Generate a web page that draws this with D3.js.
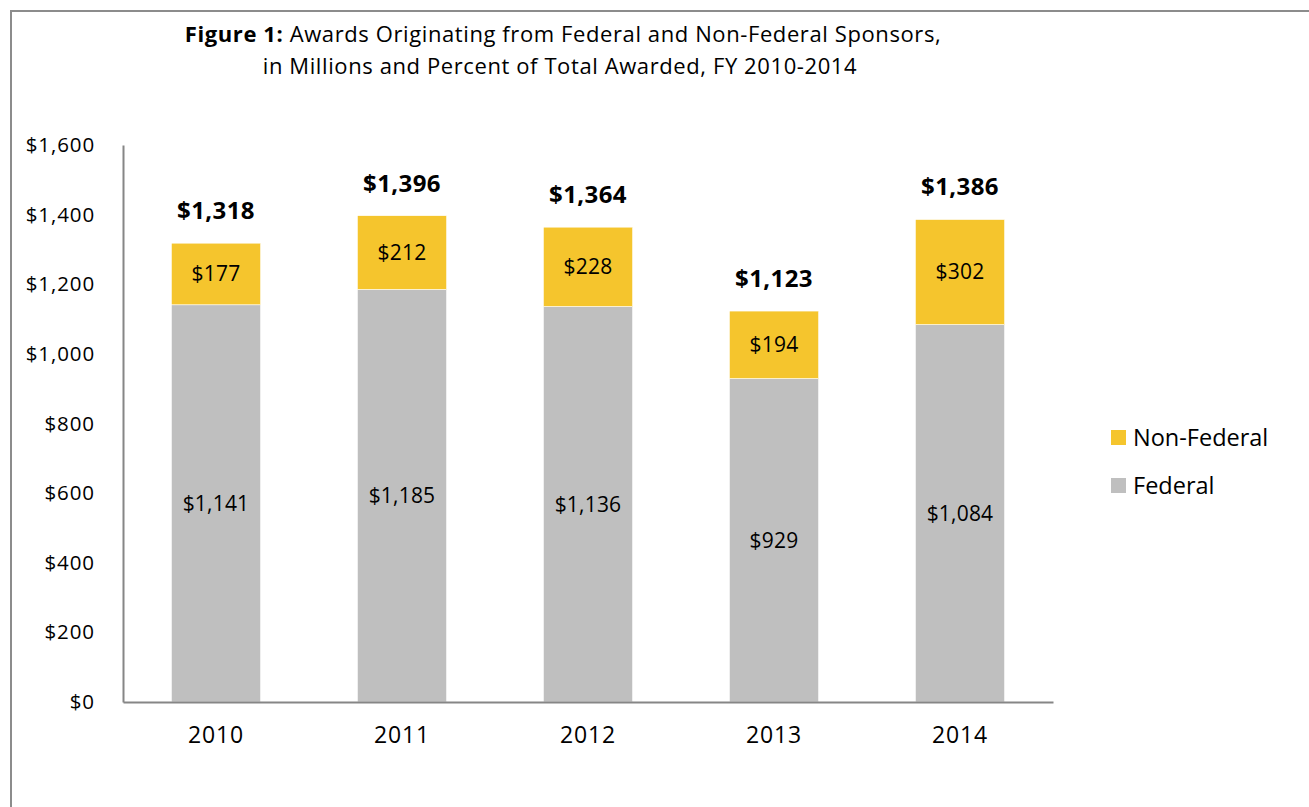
<!DOCTYPE html>
<html>
<head>
<meta charset="utf-8">
<script src="https://cdn.jsdelivr.net/npm/d3@7"></script>
<style>
  body { margin: 0; background: #fff; }
  svg { display: block; font-family: "Open Sans", Lato, sans-serif; }
</style>
</head>
<body>
<svg id="svg"></svg>
<script>
const years = ['2010', '2011', '2012', '2013', '2014'];
const federal = [1141, 1185, 1136, 929, 1084];
const nonFederal = [177, 212, 228, 194, 302];
const totals = [1318, 1396, 1364, 1123, 1386];
const yTicks = [0, 200, 400, 600, 800, 1000, 1200, 1400, 1600];

const data = years.map((y, i) => ({ year: y, federal: federal[i], nonFederal: nonFederal[i], total: totals[i] }));

const width = 1309, height = 807;
const margin = { top: 145, left: 123 };
const plotW = 930, plotH = 557;
const font = '"Open Sans", Lato, sans-serif';

const svg = d3.select('#svg').attr('width', width).attr('height', height);

// frame
svg.append('rect')
  .attr('x', 11).attr('y', 11)
  .attr('width', width + 20).attr('height', height + 20)
  .attr('fill', 'none').attr('stroke', '#8c8c8c').attr('stroke-width', 2);

// title
const title = svg.append('text').attr('text-anchor', 'middle').attr('font-size', 22)
  .attr('letter-spacing', 0.6).attr('fill', '#000');
const t1 = title.append('tspan').attr('x', 563).attr('y', 42);
t1.append('tspan').attr('font-weight', 'bold').text('Figure 1:');
t1.append('tspan').text(' Awards Originating from Federal and Non-Federal Sponsors,');
title.append('tspan').attr('x', 560).attr('y', 74).text('in Millions and Percent of Total Awarded, FY 2010-2014');

const x = d3.scaleBand().domain(years).range([0, plotW]).paddingInner(0.52).paddingOuter(0.26);
const y = d3.scaleLinear().domain([0, 1600]).range([plotH, 0]);

const g = svg.append('g').attr('transform', `translate(${margin.left},${margin.top})`);

const stack = d3.stack().keys(['federal', 'nonFederal'])(data);
const colours = { federal: '#bfbfbf', nonFederal: '#f5c52d' };

const layers = g.selectAll('.layer')
  .data(stack)
  .enter()
  .append('g')
  .attr('class', 'layer')
  .attr('fill', d => colours[d.key]);

layers.selectAll('rect')
  .data(d => d)
  .enter()
  .append('rect')
  .attr('x', d => x(d.data.year))
  .attr('y', d => y(d[1]))
  .attr('width', x.bandwidth())
  .attr('height', d => y(d[0]) - y(d[1]))
  .attr('stroke', '#fff')
  .attr('stroke-width', 0.6);

// segment labels
layers.selectAll('.seg-label')
  .data(d => d)
  .enter()
  .append('text')
  .attr('class', 'seg-label')
  .attr('x', d => x(d.data.year) + x.bandwidth() / 2)
  .attr('y', d => (y(d[0]) + y(d[1])) / 2)
  .attr('dy', '0.35em')
  .attr('text-anchor', 'middle')
  .attr('font-size', 21)
  .attr('letter-spacing', 0.2)
  .attr('fill', '#000')
  .text(d => d3.format('$,')(d[1] - d[0]));

// totals
g.selectAll('.total-label')
  .data(data)
  .enter()
  .append('text')
  .attr('class', 'total-label')
  .attr('x', d => x(d.year) + x.bandwidth() / 2)
  .attr('y', d => y(d.total) - 24)
  .attr('text-anchor', 'middle')
  .attr('font-size', 24)
  .attr('letter-spacing', 0.4)
  .attr('font-weight', 'bold')
  .text(d => d3.format('$,')(d.total));

// y axis
const yAxis = g.append('g')
  .call(d3.axisLeft(y).tickValues(yTicks).tickSize(0).tickPadding(28).tickFormat(d3.format('$,')));
yAxis.select('.domain').attr('stroke', '#868686').attr('stroke-width', 2);
yAxis.selectAll('text').attr('font-size', 20.5).attr('letter-spacing', 0.9)
  .attr('font-family', font).attr('fill', '#000');

// x axis
const xAxis = g.append('g')
  .attr('transform', `translate(0,${plotH})`)
  .call(d3.axisBottom(x).tickSize(0).tickPadding(25));
xAxis.select('.domain').attr('stroke', '#868686').attr('stroke-width', 2);
xAxis.selectAll('text').attr('font-size', 23).attr('letter-spacing', 0.9)
  .attr('font-family', font).attr('fill', '#000');

// legend
const legendItems = [
  { key: 'nonFederal', label: 'Non-Federal' },
  { key: 'federal', label: 'Federal' }
];
const legend = svg.append('g').attr('transform', 'translate(1111,430)');
const li = legend.selectAll('g')
  .data(legendItems)
  .enter()
  .append('g')
  .attr('transform', (d, i) => `translate(0,${i * 48})`);
li.append('rect').attr('width', 15).attr('height', 15).attr('fill', d => colours[d.key]);
li.append('text')
  .attr('x', 22).attr('y', 7.5).attr('dy', '0.35em')
  .attr('font-size', 23.5)
  .text(d => d.label);
</script>
</body>
</html>
